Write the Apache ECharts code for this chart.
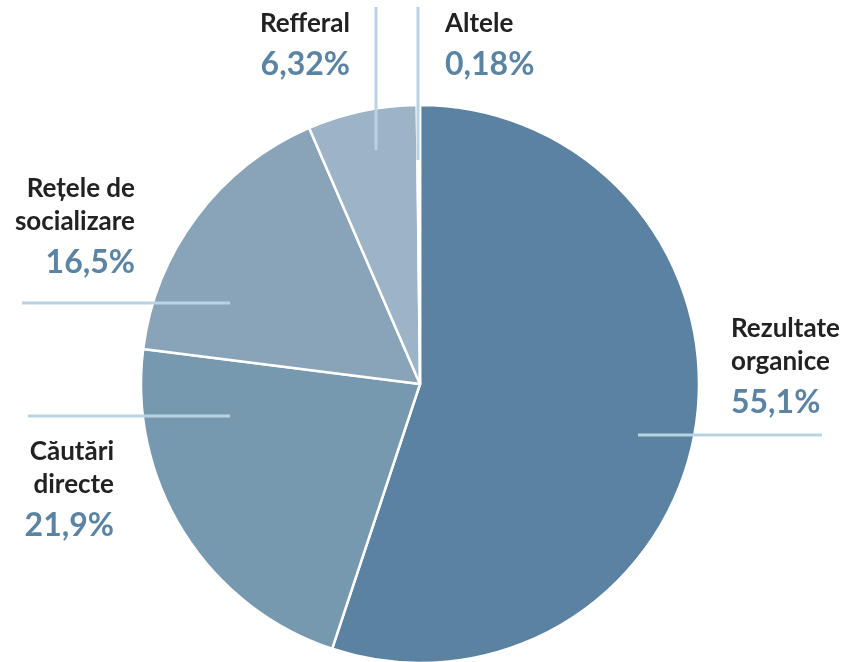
<!DOCTYPE html>
<html>
<head>
<meta charset="utf-8">
<script src="https://cdn.jsdelivr.net/npm/echarts@6/dist/echarts.min.js"></script>
<style>
  html, body { margin: 0; padding: 0; background: #fff; }
  #chart { width: 857px; height: 662px; }
</style>
</head>
<body>
<div id="chart"></div>
<script>
// Traffic sources and their share of visits (%)
const sources = ['Rezultate organice', 'Căutări directe', 'Rețele de socializare', 'Refferal', 'Altele'];
const shares = [55.1, 21.9, 16.5, 6.32, 0.18];
const sliceColors = ['#5b82a0', '#7799b0', '#89a4b9', '#9db3c6', '#b9cfdd'];

// Label anchor for each source: x, top y, text alignment
const labelPlacement = [
  { x: 731, y: 312, align: 'left' },
  { x: 114, y: 435, align: 'right' },
  { x: 135, y: 172, align: 'right' },
  { x: 350, y: 7, align: 'right' },
  { x: 445, y: 7, align: 'left' }
];

// Leader rules drawn across the pie edge
const leaderLines = [
  [638, 435, 822, 435],
  [28, 416, 230, 416],
  [22, 303, 230, 303],
  [376, 7, 376, 150],
  [418, 7, 418, 160]
];

function splitName(name) {
  const i = name.lastIndexOf(' ');
  return i < 0 ? [name] : [name.slice(0, i), name.slice(i + 1)];
}

function formatShare(v) {
  return String(v).replace('.', ',') + '%';
}

const chart = echarts.init(document.getElementById('chart'), null, { renderer: 'canvas' });

chart.setOption({
  animation: false,
  backgroundColor: '#ffffff',
  series: [{
    type: 'pie',
    center: [420, 384],
    radius: 279,
    startAngle: 90,
    clockwise: true,
    avoidLabelOverlap: false,
    itemStyle: { borderColor: '#ffffff', borderWidth: 2.5 },
    data: sources.map((name, i) => ({
      name,
      value: shares[i],
      itemStyle: { color: sliceColors[i] }
    })),
    label: {
      show: true,
      position: 'outside',
      formatter: p => splitName(p.name).map(s => '{n|' + s + '}').join('\n') +
        '\n{v|' + formatShare(p.value) + '}',
      rich: {
        n: { fontFamily: 'Lato', fontWeight: 'bold', fontSize: 26, color: '#222222', lineHeight: 33 },
        v: { fontFamily: 'Lato', fontWeight: 'bold', fontSize: 32, color: '#5b84a3', lineHeight: 50 }
      }
    },
    labelLine: { show: false },
    labelLayout: p => {
      const pl = labelPlacement[p.dataIndex];
      return { x: pl.x, y: pl.y, align: pl.align, verticalAlign: 'top' };
    }
  }],
  graphic: leaderLines.map(l => ({
    type: 'line',
    z: 100,
    shape: { x1: l[0], y1: l[1], x2: l[2], y2: l[3] },
    style: { stroke: '#b8d3e3', lineWidth: 3 }
  }))
});
</script>
</body>
</html>
